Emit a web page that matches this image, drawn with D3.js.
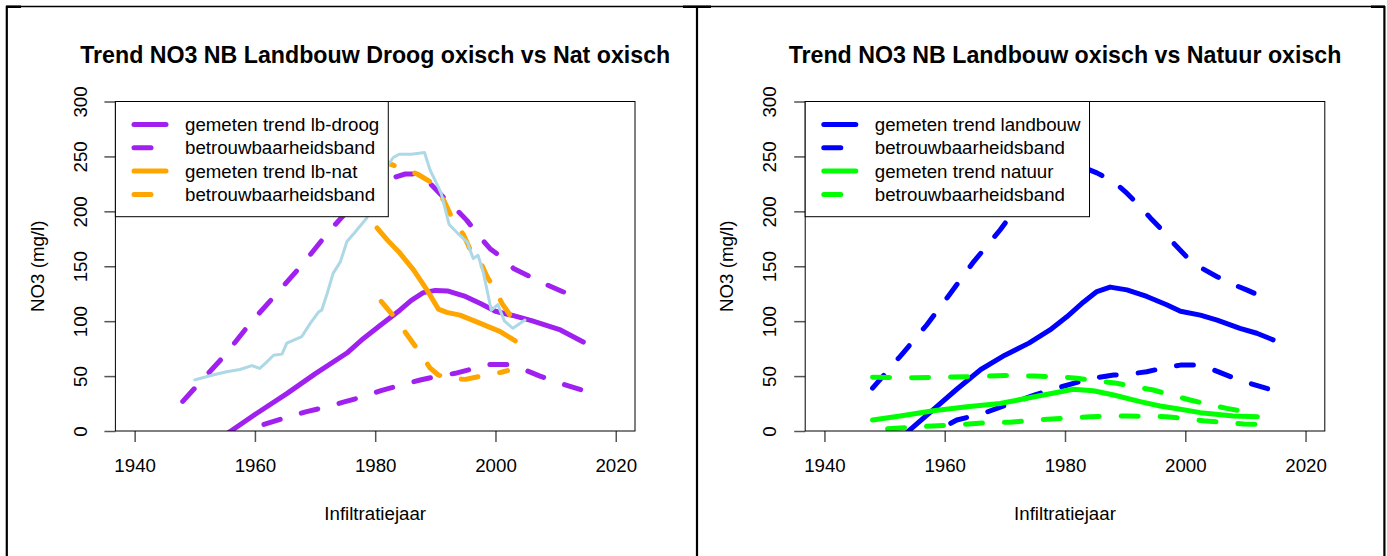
<!DOCTYPE html>
<html>
<head>
<meta charset="utf-8">
<script src="https://cdn.jsdelivr.net/npm/d3@7/dist/d3.min.js"></script>
<style>
body { margin: 0; background: #fff; }
svg { display: block; font-family: "Liberation Sans", Arial, sans-serif; }
</style>
</head>
<body>
<script>
// tick labels
var xTicks = [1940, 1960, 1980, 2000, 2020];
var yTicks = [0, 50, 100, 150, 200, 250, 300];

var titles = ["Trend NO3 NB Landbouw Droog oxisch vs Nat oxisch", "Trend NO3 NB Landbouw oxisch vs Natuur oxisch"];
var xLabel = "Infiltratiejaar";
var yLabel = "NO3 (mg/l)";

// left panel: [infiltratiejaar, NO3]
var lbDroogTrend = [[1948,-30],[1956,0],[1960,15],[1965.3,34],[1970,52],[1975.3,71],[1978,84],[1980.8,96],[1984.1,110],[1986,119],[1988,126],[1990,128],[1992,127.5],[1995,122.5],[1997.5,116],[2000,109],[2003,105],[2006,100.5],[2010.8,92],[2014.6,81]];
var lbDroogHoog = [[1948,27],[1955,69],[1959.2,98],[1963.6,125],[1968.1,153],[1972.2,181],[1976,204],[1979,219],[1982,229],[1985,234],[1986.5,234],[1989,226],[1991.5,212],[1993.6,201],[1995.2,192],[1997.5,176],[1999.1,166],[2001.3,157],[2003,148],[2005.8,140.5],[2008.6,133],[2011.1,127],[2014.6,120]];
var lbDroogLaag = [[1961.5,6],[1965.6,13],[1968.6,17.6],[1971.9,22],[1975,26.7],[1978,31.3],[1981.1,37],[1984.2,41.7],[1987.5,46.4],[1990,49.5],[1993.3,52.5],[1996.1,56.5],[1998.6,60.5],[2001.9,60.5],[2004.7,56],[2007.4,50],[2010.2,44.3],[2014.6,37]];
var lbNatTrend = [[1980.3,185],[1982,174],[1984.1,162],[1986.4,146.5],[1988.6,128.5],[1990.5,111],[1991.9,108],[1994.1,105.5],[1997.5,98],[2000.8,90.5],[2003.3,82]];
var lbNatHoog = [[1980.5,247],[1983,242],[1985,238],[1987,234],[1989.1,227],[1991.4,210],[1992.7,195],[1994.7,178.5],[1995.8,165],[1997.5,154],[1998.6,140.5],[1999.7,131],[2001.1,116],[2003,101]];
var lbNatLaag = [[1981,118],[1983.6,101],[1985.5,86],[1987.5,71],[1989.1,57.5],[1990.5,51],[1992,48],[1995,47],[1998,50.5],[2001,53.5],[2002,55]];
var gemeten = [[1950,46.5],[1951,48],[1953,51],[1955.3,54],[1957.5,56],[1959.5,59.5],[1960.8,57],[1962,63],[1963.1,69],[1964.5,70],[1965.3,80],[1967.8,86],[1969.2,98],[1970.6,108.5],[1971.1,110],[1972,125],[1973,143.5],[1974.2,154],[1975.3,172.5],[1976.5,180],[1978.6,194],[1980,212],[1981.5,237],[1983,249],[1984,252],[1986,252],[1988.2,253.5],[1989.1,238],[1990.5,222],[1991,216],[1992.3,188],[1994,178.5],[1995.3,172],[1996.3,157],[1997.1,160],[1998,144],[1999.3,110],[2000.4,115],[2001.5,100],[2002.9,93.5],[2004.9,101]];

// right panel
var lbTrend = [[1948,-31],[1954.2,1],[1958,19],[1962,38],[1966,56],[1970,69],[1974,80],[1977.5,92],[1980.3,104],[1983.1,117.5],[1985.3,127],[1987.5,131],[1990.3,128.5],[1993.6,122.5],[1996.9,115],[1999.2,109],[2002.5,105.5],[2005.3,101],[2009.1,93.5],[2011.9,89],[2014.6,83]];
var lbHoog = [[1948,39],[1952.6,68],[1957,96.5],[1960.9,125],[1964.8,154],[1969.2,183],[1971.1,197],[1975,216],[1978,228],[1981,236],[1983.5,239],[1985.3,235],[1988.1,227],[1990,218],[1992.2,206],[1994.2,194],[1996.4,181.5],[1998.3,169.5],[2000.5,157],[2002.8,148],[2005.3,140.5],[2007.5,134.5],[2010.2,128.5],[2013.3,121],[2014.6,118]];
var lbLaag = [[1961,7],[1962,10],[1966.4,16],[1971.4,26],[1975,32.8],[1978,38],[1981.4,43.4],[1984.5,48],[1988.1,51],[1990.3,51.5],[1993.6,54],[1996.1,57],[1999.2,60],[2001.4,60],[2004.7,55.6],[2007.5,49.5],[2010.2,44.3],[2014.6,37]];
var natTrend = [[1948,10],[1952.6,13.7],[1958.1,18.5],[1963.7,22],[1969.2,25],[1974.7,31],[1978.6,35],[1981.4,38],[1984.7,36.7],[1988.1,32.8],[1992.5,26.7],[1995.8,22.8],[1999.2,19.8],[2002.5,16.7],[2008,13.7],[2012,13]];
var natHoog = [[1948,49],[1955,48.5],[1960,49],[1965,49.5],[1970,50.5],[1975,50],[1980,49],[1982,48],[1985,46],[1988.6,43.4],[1991.5,40.5],[1994.7,37.3],[1997.5,33],[2000.8,28.2],[2004,24],[2006.9,20.6],[2009.5,18],[2012,16]];
var natLaag = [[1950.5,2],[1955.9,4],[1961.4,5.5],[1967.5,7.6],[1970.9,8],[1976.4,10.5],[1984.2,13],[1990.3,13.7],[1996.9,13],[2003,9.4],[2009.7,6.4],[2012,6]];

var legendLeft = ["gemeten trend lb-droog", "betrouwbaarheidsband", "gemeten trend lb-nat", "betrouwbaarheidsband"];
var legendRight = ["gemeten trend landbouw", "betrouwbaarheidsband", "gemeten trend natuur", "betrouwbaarheidsband"];

var svg = d3.select("body").append("svg").attr("width", 1387).attr("height", 556);

// frame around the two screenshots
svg.append("line").attr("x1", 6).attr("x2", 1385).attr("y1", 6.5).attr("y2", 6.5).attr("stroke", "#000").attr("stroke-width", 1.5);
[6.8, 697, 1384.4].forEach(function (xx) {
    svg.append("line").attr("x1", xx).attr("x2", xx).attr("y1", 6).attr("y2", 556).attr("stroke", "#000").attr("stroke-width", 2.2);
});
[[6, 21], [683, 711], [1371, 1385]].forEach(function (s) {
    svg.append("rect").attr("x", s[0]).attr("y", 5.5).attr("width", s[1] - s[0]).attr("height", 2.5).attr("fill", "#000");
});

var boxW = 519.6, boxH = 329.5, boxTop = 101.5;
var fs = 18.7;
var dash = "17,22";

var line = d3.line();

function drawPanel(left, idx, series, legendLabels, legendStyles) {
    var xlim = d3.extent(xTicks);
    var pad = 0.04 * (xlim[1] - xlim[0]);
    var x = d3.scaleLinear().domain([xlim[0] - pad, xlim[1] + pad]).range([0, boxW]);
    var y = d3.scaleLinear().domain(d3.extent(yTicks)).range([boxH, 0]);
    line.x(function (d) { return x(d[0]); }).y(function (d) { return y(d[1]); });

    var g = svg.append("g").attr("transform", "translate(" + left + "," + boxTop + ")");

    g.append("clipPath").attr("id", "clip" + idx).append("rect").attr("width", boxW).attr("height", boxH);
    var plot = g.append("g").attr("clip-path", "url(#clip" + idx + ")");

    series.forEach(function (s) {
        plot.append("path").attr("d", line(s.data)).attr("fill", "none")
            .attr("stroke", s.color).attr("stroke-width", s.width)
            .attr("stroke-linecap", "round").attr("stroke-linejoin", "round")
            .attr("stroke-dasharray", s.dashed ? dash : null);
    });

    // x axis
    var xa = g.append("g").attr("transform", "translate(0," + boxH + ")")
        .call(d3.axisBottom(x).tickValues(xTicks).tickSize(11).tickPadding(17).tickFormat(d3.format("d")));
    xa.select(".domain").remove();
    xa.attr("font-size", null).attr("font-family", null);
    xa.selectAll("line").attr("stroke", "#555").attr("stroke-width", 1.5);
    xa.selectAll("text").attr("font-size", fs + "px").attr("fill", "#000");

    // y axis, labels turned like R does
    var ya = g.append("g").call(d3.axisLeft(y).tickValues(yTicks).tickSize(11));
    ya.select(".domain").remove();
    ya.attr("font-size", null).attr("font-family", null);
    ya.selectAll("line").attr("stroke", "#555").attr("stroke-width", 1.5);
    ya.selectAll("text").attr("x", 0).attr("dy", "0.35em").attr("text-anchor", "middle")
        .attr("transform", "translate(-35.4,0) rotate(-90)")
        .attr("font-size", fs + "px").attr("fill", "#000");

    g.append("rect").attr("width", boxW).attr("height", boxH).attr("fill", "none").attr("stroke", "#000").attr("stroke-width", 1);

    // titles
    g.append("text").attr("x", boxW / 2).attr("y", 63 - boxTop).attr("text-anchor", "middle")
        .attr("font-weight", "bold").attr("font-size", "23.2px").text(titles[idx]);
    g.append("text").attr("x", boxW / 2).attr("y", 520 - boxTop).attr("text-anchor", "middle")
        .attr("font-size", fs + "px").text(xLabel);
    g.append("text").attr("transform", "translate(-78.4," + boxH / 2 + ") rotate(-90)").attr("dy", "0.35em")
        .attr("text-anchor", "middle").attr("font-size", fs + "px").text(yLabel);

    // legend
    var lg = g.append("g");
    var lrect = lg.append("rect").attr("fill", "#fff").attr("stroke", "#000").attr("stroke-width", 1);
    var maxW = 0;
    legendLabels.forEach(function (lab, i) {
        var cy = 23 + i * 23.3;
        var st = legendStyles[i];
        lg.append("line").attr("x1", 18.6).attr("x2", 50.6).attr("y1", cy).attr("y2", cy)
            .attr("stroke", st.color).attr("stroke-width", 5).attr("stroke-linecap", "round")
            .attr("stroke-dasharray", st.dashed ? dash : null);
        var t = lg.append("text").attr("x", 69.6).attr("y", cy).attr("dy", "0.35em")
            .attr("font-size", fs + "px").text(lab);
        maxW = Math.max(maxW, t.node().getComputedTextLength());
    });
    lrect.attr("width", 69.6 + maxW + 9).attr("height", 115.2);
}

drawPanel(115.4, 0, [
    { data: lbDroogTrend, color: "#A020F0", width: 5 },
    { data: lbDroogHoog, color: "#A020F0", width: 5, dashed: true },
    { data: lbDroogLaag, color: "#A020F0", width: 5, dashed: true },
    { data: lbNatTrend, color: "#FFA500", width: 5 },
    { data: lbNatHoog, color: "#FFA500", width: 5, dashed: true },
    { data: lbNatLaag, color: "#FFA500", width: 5, dashed: true },
    { data: gemeten, color: "#ADD8E6", width: 3 }
], legendLeft, [
    { color: "#A020F0" }, { color: "#A020F0", dashed: true },
    { color: "#FFA500" }, { color: "#FFA500", dashed: true }
]);

drawPanel(805.2, 1, [
    { data: lbTrend, color: "#0000FF", width: 5 },
    { data: lbHoog, color: "#0000FF", width: 5, dashed: true },
    { data: lbLaag, color: "#0000FF", width: 5, dashed: true },
    { data: natTrend, color: "#00FF00", width: 5 },
    { data: natHoog, color: "#00FF00", width: 5, dashed: true },
    { data: natLaag, color: "#00FF00", width: 5, dashed: true }
], legendRight, [
    { color: "#0000FF" }, { color: "#0000FF", dashed: true },
    { color: "#00FF00" }, { color: "#00FF00", dashed: true }
]);
</script>
</body>
</html>
